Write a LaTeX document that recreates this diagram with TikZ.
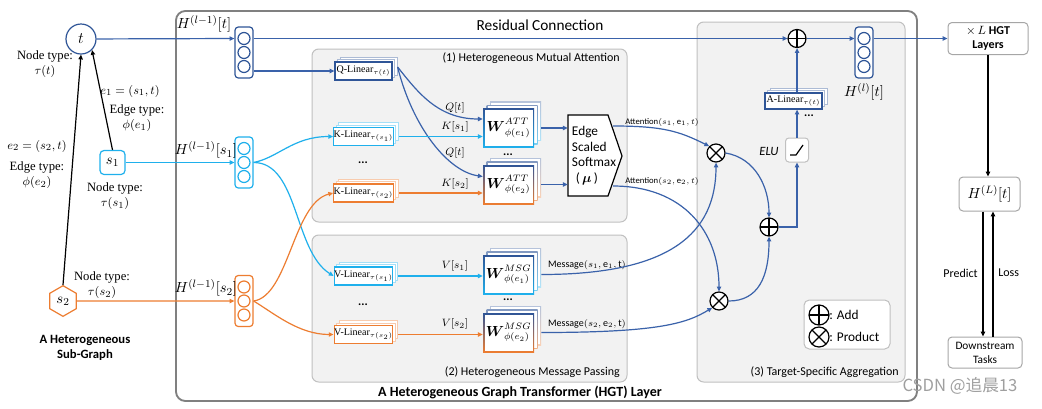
\documentclass[tikz,border=0pt]{standalone}
\usepackage{amsmath}
\usepackage{fontspec}
\setmainfont{Carlito}
\newfontfamily\serifnt{Liberation Serif}
\newfontfamily\cjk{Noto Sans CJK SC}
\usetikzlibrary{arrows.meta,shadows,shapes.geometric,calc}
\definecolor{dblue}{HTML}{2F5597}
\definecolor{lblue}{HTML}{3A62AA}
\definecolor{cyanc}{HTML}{1FB0EC}
\definecolor{orng}{HTML}{ED7D31}
\definecolor{boxfill}{HTML}{F2F2F2}
\definecolor{boxdraw}{HTML}{C0C0C0}
\definecolor{outerc}{HTML}{808080}
\definecolor{rboxc}{HTML}{A6A6A6}
\newcommand\fs[2]{\fontsize{#1}{#2}\selectfont}
\tikzset{
  arr/.style={-{Triangle[length=3.6pt,width=3.2pt]}, line width=0.9pt},
  vecbox/.style={draw=#1, rounded corners=2.5pt, line width=0.9pt, minimum width=13.5pt, minimum height=38.25pt, inner sep=0pt, fill=white},
  lin/.style={draw=#1, fill=white, line width=0.9pt, inner sep=0pt, minimum width=42.75pt, minimum height=13.5pt,
     font=\serifnt\fs{7.5}{9},
     double copy shadow={shadow xshift=1.9pt, shadow yshift=1.9pt, draw=#1!40, line width=0.6pt, fill=white}},
  addc/.style={circle, draw, line width=0.9pt, minimum size=13.5pt, inner sep=0pt, fill=white,
     path picture={\draw[line width=0.9pt] (path picture bounding box.north) -- (path picture bounding box.south)
       (path picture bounding box.west) -- (path picture bounding box.east);}},
  prodc/.style={circle, draw, line width=0.9pt, minimum size=13.5pt, inner sep=0pt, fill=white,
     path picture={\draw[line width=0.9pt] (path picture bounding box.north west) -- (path picture bounding box.south east)
       (path picture bounding box.north east) -- (path picture bounding box.south west);}},
  lbl/.style={inner sep=0pt, align=center},
  wtext/.style={inner sep=0pt, minimum width=38.25pt, minimum height=29.25pt, font=\fs{10.5}{12}},
  rboxs/.style={draw=rboxc, rounded corners=3pt, line width=0.75pt, fill=white, align=center, inner sep=0pt},
  graybox/.style={draw=boxdraw, line width=0.75pt, fill=boxfill, rounded corners=5pt},
}
\newcommand\wbox[6]{%
  \foreach \d/\op in {7/35,3.5/60}{%
    \shade[top color=#4!\op, bottom color=#5!\op] (#2-25.5+\d,#3-19.5-\d) rectangle (#2+25.5+\d,#3+19.5-\d);
    \fill[white] (#2-24.5+\d,#3-18.5-\d) rectangle (#2+24.5+\d,#3+18.5-\d);
  }
  \shade[top color=#4, bottom color=#5] (#2-25.5,#3-19.5) rectangle (#2+25.5,#3+19.5);
  \fill[white] (#2-24,#3-18) rectangle (#2+24,#3+18);
  \node[wtext] (#1) at (#2,#3) {#6};
}
\newcommand\veccirc[2]{%
  \foreach \dy in {-14,0,14}{\draw[#2, line width=0.9pt] ($(#1)+(0,\dy)$) circle[radius=6];}
}
\begin{document}
\begin{tikzpicture}[x=0.75pt,y=-0.75pt]
\useasboundingbox (0,0) rectangle (1042,408);

% ---------- outer layer box ----------
\draw[outerc, line width=1.4pt, rounded corners=7pt, fill=white] (176,11) rectangle (917,401);
\node[lbl, font=\bfseries\fs{10.5}{12}] (layerlbl) at (520,392) {A Heterogeneous Graph Transformer (HGT) Layer};

\draw[graybox] (312,49) rectangle (627,222);
\node[lbl, anchor=east, font=\fs{9}{11}] (lbl1) at (620,58) {(1) Heterogeneous Mutual Attention};
\draw[graybox] (312,235) rectangle (627,382);
\node[lbl, anchor=east, font=\fs{9}{11}] (lbl2) at (620,372) {(2) Heterogeneous Message Passing};
\draw[graybox] (697,22) rectangle (905,382);
\node[lbl, anchor=east, font=\fs{9}{11}] (lbl3) at (899,372) {(3) Target-Specific Aggregation};

% ---------- left graph ----------
\node[circle, draw=dblue, line width=0.9pt, minimum size=22.5pt, inner sep=0pt, fill=white, font=\fs{13}{15}] (t) at (81,39) {$t$};
\node[draw=cyanc, rounded corners=3pt, line width=0.9pt, minimum width=18.75pt, minimum height=18pt, inner sep=0pt, fill=white, font=\fs{11}{13}] (s1) at (112.5,162.5) {$s_1$};
\node[regular polygon, regular polygon sides=6, shape border rotate=30, draw=orng, line width=0.9pt, minimum size=23pt, inner sep=0pt, fill=white, font=\fs{11}{13}] (s2) at (63,301) {$s_2$};
\draw[arr, black] (s1.north) -- (t.-45);
\draw[arr, black] (s2.north) -- (t.south);

\node[lbl, font=\serifnt\fs{9.5}{11.25}] (ntt) at (45,64.5) {Node type:\\$\tau(t)$};
\node[lbl, font=\serifnt\fs{9.5}{11.25}] (e1l) at (130,91) {$e_1=(s_1,t)$};
\node[lbl, font=\serifnt\fs{9.5}{11.25}] (e1t) at (137,118) {Edge type:\\$\phi(e_1)$};
\node[lbl, font=\serifnt\fs{9.5}{11.25}] (e2l) at (37,146) {$e_2=(s_2,t)$};
\node[lbl, font=\serifnt\fs{9.5}{11.25}] (e2t) at (37,175) {Edge type:\\$\phi(e_2)$};
\node[lbl, font=\serifnt\fs{9.5}{11.25}] (nts1) at (115,196) {Node type:\\$\tau(s_1)$};
\node[lbl, font=\serifnt\fs{9.5}{11.25}] (nts2) at (102,285) {Node type:\\$\tau(s_2)$};
\node[lbl, font=\bfseries\fs{9.5}{11.25}] (sgl) at (85,348) {A Heterogeneous\\Sub-Graph};

% ---------- input vectors ----------
\node[vecbox=dblue] (vt) at (244,52.5) {};
\veccirc{vt}{dblue}
\node[vecbox=cyanc] (vs1) at (244,162.5) {};
\veccirc{vs1}{cyanc}
\node[vecbox=orng] (vs2) at (244,301) {};
\veccirc{vs2}{orng}
\node[lbl, font=\fs{11}{13}] (hlt) at (204,24) {$H^{(l-1)}[t]$};
\node[lbl, font=\fs{11}{13}] (hls1) at (206,150) {$H^{(l-1)}[s_1]$};
\node[lbl, font=\fs{11}{13}] (hls2) at (206,288) {$H^{(l-1)}[s_2]$};

\draw[arr, lblue] (t) -- ($(vt.west)+(0,-14)$);
\draw[arr, cyanc] (s1.east) -- (vs1.west);
\draw[arr, orng] (s2.east) -- (vs2.west);

% ---------- linear layers ----------
\node[lin=dblue] (q) at (363.5,71) {Q-Linear$_{\tau(t)}$};
\node[lin=cyanc] (k1) at (363.5,136.5) {K-Linear$_{\tau(s_1)}$};
\node[lin=orng] (k2) at (363.5,193) {K-Linear$_{\tau(s_2)}$};
\node[lin=cyanc] (v1) at (363.5,276) {V-Linear$_{\tau(s_1)}$};
\node[lin=orng] (v2) at (363.5,334.5) {V-Linear$_{\tau(s_2)}$};
\node[lbl, font=\bfseries\fs{9}{10}] (dk) at (363,163) {...};
\node[lbl, font=\bfseries\fs{9}{10}] (dv) at (363,305) {...};

\draw[arr, lblue] (vt.east |- q.west) -- (q.west);
\draw[arr, cyanc] (vs1.east) .. controls +(25,-5) and +(-40,0) .. (k1.west);
\draw[arr, cyanc] (vs1.east) .. controls +(45,0) and +(-40,-25) .. (v1.west);
\draw[arr, orng] (vs2.east) .. controls +(35,-5) and +(-40,10) .. (k2.west);
\draw[arr, orng] (vs2.east) .. controls +(20,12) and +(-35,0) .. (v2.west);

% ---------- W boxes ----------
\wbox{w1}{508.5}{128}{dblue}{cyanc}{$\boldsymbol{W}^{ATT}_{\phi(e_1)}$}
\wbox{w2}{508.5}{184.5}{dblue}{orng}{$\boldsymbol{W}^{ATT}_{\phi(e_2)}$}
\wbox{wm1}{508.5}{274.5}{dblue}{cyanc}{$\boldsymbol{W}^{MSG}_{\phi(e_1)}$}
\wbox{wm2}{508.5}{332.5}{dblue}{orng}{$\boldsymbol{W}^{MSG}_{\phi(e_2)}$}
\node[lbl, font=\bfseries\fs{9}{10}] (dw) at (508,155) {...};
\node[lbl, font=\bfseries\fs{9}{10}] (dwm) at (508,300) {...};

\coordinate (qo) at ($(q.east)+(5,-4)$);
\draw[arr, lblue] (qo) .. controls +(20,25) and +(-45,0) .. ($(w1.west)+(0,-9)$);
\draw[arr, lblue] (qo) .. controls +(15,60) and +(-35,-5) .. ($(w2.west)+(0,-8)$);
\coordinate (k1o) at ($(k1.east)+(5,0)$);
\coordinate (k2o) at ($(k2.east)+(5,0)$);
\coordinate (v1o) at ($(v1.east)+(5,0)$);
\coordinate (v2o) at ($(v2.east)+(5,0)$);
\draw[arr, cyanc] (k1o) -- (k1o -| w1.west);
\draw[arr, orng] (k2o) -- (k2o -| w2.west);
\draw[arr, cyanc] (v1o) -- (v1o -| wm1.west);
\draw[arr, orng] (v2o) -- (v2o -| wm2.west);
\node[lbl, font=\fs{8.5}{10}] (lq1) at (455,108) {$Q[t]$};
\node[lbl, font=\fs{8.5}{10}] (lk1) at (455,127) {$K[s_1]$};
\node[lbl, font=\fs{8.5}{10}] (lq2) at (455,153) {$Q[t]$};
\node[lbl, font=\fs{8.5}{10}] (lk2) at (455,184) {$K[s_2]$};
\node[lbl, font=\fs{8.5}{10}] (lv1) at (455,266) {$V[s_1]$};
\node[lbl, font=\fs{8.5}{10}] (lv2) at (455,324) {$V[s_2]$};

% ---------- softmax ----------
\draw[black, line width=0.9pt, fill=white] (568,115) -- (608,115) -- (622,156) -- (608,196) -- (568,196) -- cycle;
\node[inner sep=0pt, align=left, font=\fs{10}{11.6}, minimum width=39pt, minimum height=60.75pt] (sm) at (594,155.5) {Edge\\Scaled\\Softmax\\\hspace*{3pt}($\,\boldsymbol{\mu}\,$)};
\coordinate (w1o) at ($(w1.east)+(7,0)$);
\coordinate (w2o) at ($(w2.east)+(7,0)$);
\draw[arr, lblue] (w1o) -- (w1o -| sm.west);
\draw[arr, lblue] (w2o) -- (w2o -| sm.west);

% ---------- aggregation ----------
\node[prodc] (p1) at (716,153) {};
\node[prodc] (p2) at (719,301) {};
\node[addc] (addl) at (769,227) {};
\node[addc] (addt) at (797,38.5) {};
\node[draw=boxdraw, rounded corners=2.5pt, line width=0.75pt, fill=white, minimum width=17.25pt, minimum height=18pt, inner sep=0pt] (elu) at (797,150) {};
\draw[line width=0.9pt] ($(elu.center)+(-7,5)$) -- ++(6,0) -- ++(7,-10);
\node[lbl, font=\itshape\fs{9.5}{11}] (elul) at (769,151) {ELU};
\node[lin=dblue, minimum height=12pt] (al) at (793.5,101) {A-Linear$_{\tau(t)}$};
\node[lbl, font=\bfseries\fs{9}{10}] (da) at (809,116) {...};
\node[vecbox=dblue] (vl) at (864,52.5) {};
\veccirc{vl}{dblue}
\node[lbl, font=\fs{11}{13}] (hl) at (864,92) {$H^{(l)}[t]$};

\coordinate (a1) at (613,126);
\coordinate (a2) at (613,186);
\node[lbl, font=\fs{6.5}{8}] (la1) at (662,122) {Attention$(s_1,\mathrm{e}_1,t)$};
\node[lbl, font=\fs{6.5}{8}] (la2) at (662,181) {Attention$(s_2,\mathrm{e}_2,t)$};
\draw[arr, lblue] (a1) .. controls +(50,0) and +(-30,-15) .. (p1.north west);
\draw[arr, lblue] (a2) .. controls +(70,0) and +(0,-60) .. (p2.north);
\coordinate (m1o) at ($(wm1.east)+(7,0)$);
\coordinate (m2o) at ($(wm2.east)+(7,0)$);
\node[lbl, font=\fs{7.5}{9}] (lm1) at (587,265) {Message$(s_1,\mathrm{e}_1,\mathrm{t})$};
\node[lbl, font=\fs{7.5}{9}] (lm2) at (587,324) {Message$(s_2,\mathrm{e}_2,\mathrm{t})$};
\draw[arr, lblue] (m1o) .. controls +(130,0) and +(0,70) .. (p1.south);
\draw[arr, lblue] (m2o) .. controls +(120,0) and +(-25,15) .. (p2.south west);

\draw[arr, lblue] (p1.east) .. controls +(30,5) and +(0,-30) .. (addl.north);
\draw[arr, lblue] (p2.east) .. controls +(30,0) and +(0,40) .. (addl.south);
\draw[arr, lblue] (addl.east) -| (elu.south);
\draw[arr, lblue] (elu.north) -- (elu.north |- al.south);
\draw[arr, lblue] (al.north -| elu.north) -- (addt.south);
\draw[arr, lblue] ($(vt.east)+(0,-14)$) -- (addt.west);
\node[lbl, font=\fs{11.5}{13}] (resl) at (540,25) {Residual Connection};
\draw[arr, lblue] (addt.east) -- ($(vl.west)+(0,-14)$);

% legend
\draw[draw=boxdraw, line width=0.75pt, fill=white, rounded corners=4pt] (804,300) rectangle (890,349);
\node[addc, minimum size=15pt] (lga) at (819,315) {};
\node[anchor=west, inner sep=0pt, font=\fs{10}{11}] (lgat) at (829,315) {: Add};
\node[prodc, minimum size=15pt] (lgp) at (819,337) {};
\node[anchor=west, inner sep=0pt, font=\fs{10}{11}] (lgpt) at (829,337) {: Product};

% ---------- right column ----------
\node[rboxs, minimum width=60pt, minimum height=24pt, font=\fs{9}{11}] (hgt) at (988,38.5) {$\times\,L$ \textbf{HGT}\\\textbf{Layers}};
\node[rboxs, minimum width=45.75pt, minimum height=25.5pt, font=\fs{11}{13}] (hL) at (989.5,194) {$H^{(L)}[t]$};
\node[rboxs, minimum width=55.5pt, minimum height=23.25pt, font=\fs{8.5}{10.5}] (ds) at (985,352.5) {Downstream\\Tasks};
\draw[arr, lblue] ($(vl.east)+(0,-14)$) -- (hgt.west);
\draw[arr, black] (hgt.south) -- (hgt.south |- hL.north);
\coordinate (pr) at ($(hL.south)+(-6.5,0)$);
\coordinate (lo) at ($(hL.south)+(3.5,0)$);
\draw[arr, black] (pr) -- (pr |- ds.north);
\draw[arr, black] (lo |- ds.north) -- (lo);
\node[anchor=east, inner sep=0pt, font=\fs{9}{11}] (prl) at (978,273) {Predict};
\node[anchor=west, inner sep=0pt, font=\fs{9}{11}] (lol) at (998,273) {Loss};

\node[inner sep=0pt, font=\cjk\fs{12.5}{14}, text=gray!75] (wmk) at (960,386) {CSDN @追晨13};
\end{tikzpicture}
\end{document}
